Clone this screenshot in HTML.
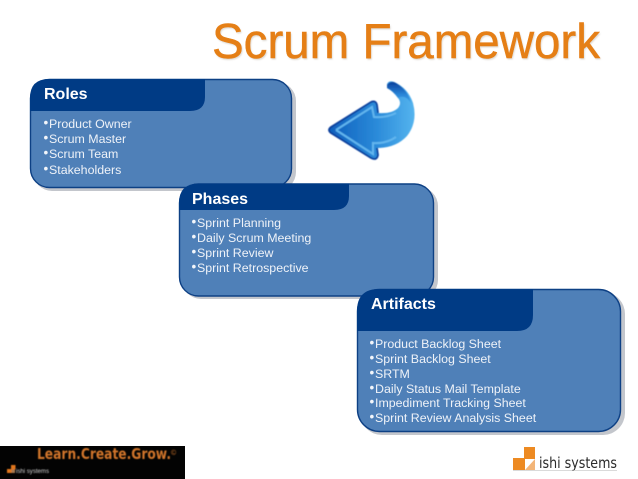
<!DOCTYPE html>
<html>
<head>
<meta charset="utf-8">
<style>
html,body{margin:0;padding:0;background:#fff;width:638px;height:479px;overflow:hidden}
svg{display:block}
text{font-family:"Liberation Sans",sans-serif}
.h{font-weight:bold;font-size:16px;fill:#fff}
.i{font-size:12.4px;fill:#eef2f8}
.b{font-size:13.5px;fill:#f2f5fa}
</style>
</head>
<body>
<svg width="638" height="479" viewBox="0 0 638 479" xmlns="http://www.w3.org/2000/svg">
<defs>
<linearGradient id="ag" x1="0" y1="0" x2="1" y2="0">
<stop offset="0" stop-color="#0f5fbc"/><stop offset="0.55" stop-color="#2a8ad9"/><stop offset="1" stop-color="#55b4ee"/>
</linearGradient>
<linearGradient id="tail" x1="0" y1="0" x2="0" y2="1">
<stop offset="0" stop-color="#0a3f9c"/><stop offset="0.6" stop-color="#2a86d8"/><stop offset="1" stop-color="#3f9fe6"/>
</linearGradient>
<filter id="s0"><feGaussianBlur stdDeviation="0.3"/></filter>
<filter id="s1"><feGaussianBlur stdDeviation="0.6"/></filter>
<filter id="s2"><feGaussianBlur stdDeviation="0.8"/></filter>
</defs>

<g filter="url(#s0)">
<!-- Title -->
<text x="212" y="58" font-size="49.5" fill="#c9c2b8" opacity="0.6" textLength="388" lengthAdjust="spacingAndGlyphs" transform="translate(1,1.5)" filter="url(#s2)">Scrum Framework</text>
<text x="212" y="58" font-size="49.5" fill="#e57f17" stroke="#e57f17" stroke-width="0.5" textLength="388" lengthAdjust="spacingAndGlyphs">Scrum Framework</text>

<!-- Roles -->
<rect x="33" y="82" width="263" height="109" rx="19" fill="#c3c6cc"/>
<rect x="30.5" y="79.5" width="261" height="108" rx="19" fill="#5080b8" stroke="#0d3f84" stroke-width="1.4"/>
<path d="M30,111 V98 Q30,79 49,79 H205 V97 Q205,111 190,111 Z" fill="#023a85"/>
<text class="h" x="44" y="99">Roles</text>
<text class="b" x="43.500" y="127">•</text><text class="i" x="49" y="128">Product Owner</text>
<text class="b" x="43.500" y="142">•</text><text class="i" x="49" y="143">Scrum Master</text>
<text class="b" x="43.500" y="157">•</text><text class="i" x="49" y="158">Scrum Team</text>
<text class="b" x="43.500" y="173">•</text><text class="i" x="49" y="174">Stakeholders</text>

<!-- Phases -->
<rect x="182" y="187" width="256" height="112" rx="19" fill="#c3c6cc"/>
<rect x="179.5" y="184" width="254" height="112" rx="19" fill="#5080b8" stroke="#0d3f84" stroke-width="1.4"/>
<path d="M179,210 V203 Q179,183.500 199,183.500 H349 V196 Q349,210 334,210 Z" fill="#023a85"/>
<text class="h" x="192" y="204">Phases</text>
<text class="b" x="191.500" y="226">•</text><text class="i" x="197" y="227">Sprint Planning</text>
<text class="b" x="191.500" y="241">•</text><text class="i" x="197" y="242">Daily Scrum Meeting</text>
<text class="b" x="191.500" y="256">•</text><text class="i" x="197" y="257">Sprint Review</text>
<text class="b" x="191.500" y="271">•</text><text class="i" x="197" y="272">Sprint Retrospective</text>

<!-- Artifacts -->
<rect x="360" y="292" width="265" height="143" rx="22" fill="#c3c6cc"/>
<rect x="357.5" y="289.500" width="263" height="142" rx="22" fill="#5080b8" stroke="#0d3f84" stroke-width="1.4"/>
<path d="M357,331 V311 Q357,289 379,289 H533 V315 Q533,331 517,331 Z" fill="#023a85"/>
<text class="h" x="371" y="309">Artifacts</text>
<text class="b" x="369.500" y="347">•</text><text class="i" x="375" y="348">Product Backlog Sheet</text>
<text class="b" x="369.500" y="362">•</text><text class="i" x="375" y="363">Sprint Backlog Sheet</text>
<text class="b" x="369.500" y="377">•</text><text class="i" x="375" y="378">SRTM</text>
<text class="b" x="369.500" y="392">•</text><text class="i" x="375" y="393">Daily Status Mail Template</text>
<text class="b" x="369.500" y="406">•</text><text class="i" x="375" y="407">Impediment Tracking Sheet</text>
<text class="b" x="369.500" y="421">•</text><text class="i" x="375" y="422">Sprint Review Analysis Sheet</text>
</g>

<!-- Arrow -->
<g filter="url(#s1)">
<path d="M387,84 Q389,80 394,82 Q408,88 413,103 Q418,122 407,136 Q396,148 377,148 L378,155 Q377,161 371,158 L331,133 Q327,130 331,127 L371,102 Q376,100 377,105 L378,113 Q392,114 398,108 Q402,103 398,98 Q393,91 387,88 Z" fill="url(#ag)"/>
<path d="M377,148 L378,155 Q377,161 371,158 L331,133 Q327,130 331,127 L371,102 Q376,100 377,105 L378,113" fill="none" stroke="#0a3f9c" stroke-width="1.8"/>
<path d="M336,130 L372,107 L374,117 Q386,118 396,113 M336,130 L373,154 L373,143 Q386,144 396,137" fill="none" stroke="#62b6ee" stroke-width="2"/>
<path d="M387,85 Q391,80 396,83 Q408,90 411,103 Q405,94 398,98 Q393,91 387,88 Z" fill="url(#tail)"/>
</g>

<!-- Bottom-left banner -->
<rect x="0" y="446" width="185" height="33" fill="#030303"/>
<g filter="url(#s1)">
<text x="37" y="459" font-size="15" font-weight="bold" fill="#d0752a" textLength="134" lengthAdjust="spacingAndGlyphs" style="font-family:'DejaVu Sans',sans-serif">Learn.Create.Grow.</text>
<text x="171" y="455" font-size="7" fill="#d0752a">©</text>
<rect x="11" y="465" width="4.500" height="4.500" fill="#e0761f"/>
<rect x="7" y="469" width="4.500" height="4" fill="#e0761f"/>
<rect x="11.500" y="469.500" width="3.500" height="3.500" fill="#a9794f"/>
<text x="16" y="473" font-size="6.500" fill="#d0d0d0" textLength="33" lengthAdjust="spacingAndGlyphs">ishi systems</text>
</g>

<!-- Bottom-right logo -->
<g filter="url(#s0)">
<rect x="513" y="458" width="12" height="12" fill="#ed8a22"/>
<rect x="524" y="447" width="11" height="12" fill="#ed8a22"/>
<path d="M525,470 L535,459 V470 Z" fill="#f3b578"/>
<text x="539" y="468" font-size="15.500" fill="#2c2c2c" textLength="78" lengthAdjust="spacingAndGlyphs" style="font-family:'DejaVu Sans',sans-serif">ishi systems</text>
<rect x="513" y="470" width="104" height="0.600" fill="#c0c0c0"/>
</g>
</svg>
</body>
</html>
